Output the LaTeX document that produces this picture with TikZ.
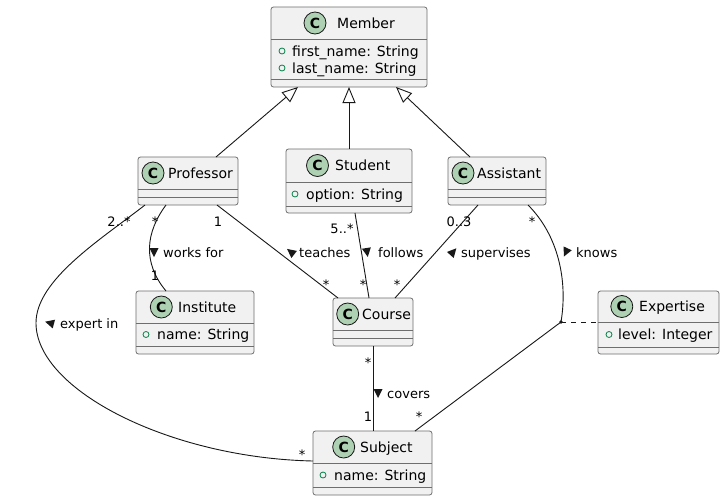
\documentclass[tikz,border=0pt]{standalone}
\usepackage{fontspec}
\setmainfont{DejaVu Sans}
\usetikzlibrary{arrows.meta}
\definecolor{boxfill}{HTML}{F1F1F1}
\definecolor{boxline}{HTML}{6E6E6E}
\definecolor{badge}{HTML}{ADD1B2}
\definecolor{ink}{HTML}{181818}
\definecolor{vis}{HTML}{038048}
\tikzset{
  clsbox/.style={draw=boxline, fill=boxfill, rounded corners=2.5pt, line width=0.8pt, inner sep=0pt, outer sep=0pt},
  sepline/.style={draw=boxline, line width=0.8pt},
  badgec/.style={circle, draw=ink, fill=badge, minimum size=22pt, inner sep=0pt, line width=0.8pt, font=\bfseries\fontsize{14}{14}\selectfont},
  title/.style={anchor=base west, inner sep=0pt, font=\fontsize{14}{16}\selectfont},
  attr/.style={anchor=base west, inner sep=0pt, font=\fontsize{14}{16}\selectfont},
  vismark/.style={circle, draw=vis, minimum size=6pt, inner sep=0pt, line width=0.8pt},
  assoc/.style={draw=ink, line width=0.9pt},
  gen/.style={assoc, -{Triangle[open, length=16pt, width=13pt]}},
  mult/.style={anchor=base, inner sep=0pt, font=\fontsize{13}{13}\selectfont},
  lbl/.style={anchor=base west, inner sep=0pt, font=\fontsize{13}{13}\selectfont},
  dirtri/.pic={\fill[ink] (5,0) -- (-4,4.5) -- (-4,-4.5) -- cycle;}
}
\newcommand\classbox[7]{%
  \node[clsbox, anchor=north west, minimum width={(#4-#2)*1pt}, minimum height={(#5-#3)*1pt}] (#1) at (#2,#3) {};
  \draw[sepline] (#2,#6) -- (#4,#6);
  \draw[sepline] (#2,#7) -- (#4,#7);
}
\newcommand\classtitle[5]{%
  \node[badgec] (#1-c) at (#2,#4) {C};
  \node[title] (#1-n) at (#3,#4+5) {#5};
}
\newcommand\classattr[5]{%
  \node[vismark] (#1-o) at (#2,#4) {};
  \node[attr] (#1-a) at (#3,#4+5) {#5};
}
\begin{document}
\begin{tikzpicture}[x=1pt, y=-1pt]
\useasboundingbox[fill=white] (0,0) rectangle (726,501);

% classes
\classbox{member}{271}{7}{427}{87}{39}{79}
\classtitle{member}{315}{337}{23}{Member}
\classattr{member1}{282}{292}{51}{first\_name: String}
\classattr{member2}{282}{292}{68}{last\_name: String}

\classbox{professor}{138}{157}{238}{205}{189}{197}
\classtitle{professor}{153}{168}{173}{Professor}

\classbox{student}{286}{149}{412}{213}{182}{206}
\classtitle{student}{317.5}{335}{165.5}{Student}
\classattr{student1}{295}{306}{194}{option: String}

\classbox{assistant}{448}{157}{546}{205}{189}{197}
\classtitle{assistant}{463}{477}{173}{Assistant}

\classbox{institute}{136}{291}{254}{354}{323}{346}
\classtitle{institute}{161.3}{178}{307}{Institute}
\classattr{institute1}{146}{157}{334.5}{name: String}

\classbox{course}{333}{298}{413}{346}{330}{338}
\classtitle{course}{347.7}{362}{314}{Course}

\classbox{expertise}{598}{291}{719}{354}{322}{347}
\classtitle{expertise}{621.8}{639}{306.5}{Expertise}
\classattr{expertise1}{609}{618}{334.5}{level: Integer}

\classbox{subject}{313}{431}{432}{495}{463}{487}
\classtitle{subject}{343.7}{360}{447}{Subject}
\classattr{subject1}{323}{334}{475}{name: String}

% generalizations
\draw[gen] ([xshift=78pt]professor.north west) -- ([xshift=27pt]member.south west);
\draw[gen] (student.north) -- (member.south);
\draw[gen] ([xshift=22pt]assistant.north west) -- ([xshift=125pt]member.south west);

% associations
\draw[assoc] ([xshift=7pt]professor.south west) .. controls (100,240) and (36,280) .. (36,323)
  .. controls (36,390) and (170,458) .. ([yshift=-30pt]subject.north west);
\draw[assoc] ([xshift=28pt]professor.south west) .. controls (146,232) and (142,262) .. ([xshift=30pt]institute.north west);
\draw[assoc] ([xshift=79pt]professor.south west) -- ([xshift=5pt]course.north west);
\draw[assoc] ([xshift=69pt]student.south west) -- ([xshift=36pt]course.north west);
\draw[assoc] ([xshift=30pt]assistant.south west) -- ([xshift=62pt]course.north west);
\coordinate (kdot) at (561,322);
\draw[assoc] ([xshift=80pt]assistant.south west) .. controls (558,235) and (568,280) .. (kdot)
  -- ([xshift=102pt]subject.north west);
\fill[ink] (kdot) circle (1.8);
\draw[assoc, dash pattern=on 5pt off 5pt] (kdot) -- (expertise.west |- kdot);
\draw[assoc] ([xshift=40pt]course.south west) -- ([xshift=60pt]subject.north west);

% multiplicities
\node[mult] (m1) at (119,226) {2..*};
\node[mult] (m2) at (155,226) {*};
\node[mult] (m3) at (155,280) {1};
\node[mult] (m4) at (218,226) {1};
\node[mult] (m5) at (326,289) {*};
\node[mult] (m6) at (342,233) {5..*};
\node[mult] (m7) at (363,289) {*};
\node[mult] (m8) at (459,226) {0..3};
\node[mult] (m9) at (397,289) {*};
\node[mult] (m10) at (532,226) {*};
\node[mult] (m11) at (419,421) {*};
\node[mult] (m12) at (302,459) {*};
\node[mult] (m13) at (368,367) {*};
\node[mult] (m14) at (368,421) {1};

% association labels
\pic[rotate=-90] at (154,252) {dirtri};
\node[lbl] (l1) at (163,257) {works for};
\pic[rotate=165] at (50,323) {dirtri};
\node[lbl] (l2) at (60,328) {expert in};
\pic[rotate=142] at (291,252) {dirtri};
\node[lbl] (l3) at (299,257) {teaches};
\pic[rotate=-81] at (367,252) {dirtri};
\node[lbl] (l4) at (378,257) {follows};
\pic[rotate=48] at (453,252) {dirtri};
\node[lbl] (l5) at (461,257) {supervises};
\pic[rotate=-115] at (566,252) {dirtri};
\node[lbl] (l6) at (576,257) {knows};
\pic[rotate=-90] at (378,393) {dirtri};
\node[lbl] (l7) at (387,398) {covers};
\end{tikzpicture}
\end{document}
